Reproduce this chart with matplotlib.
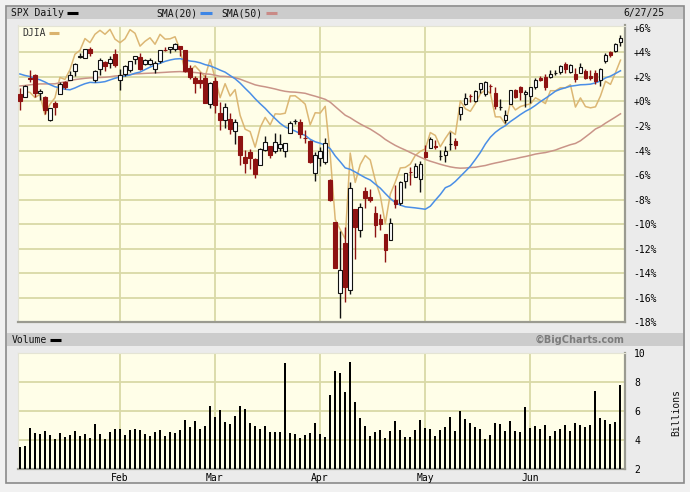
import matplotlib
matplotlib.use("Agg")
import matplotlib.pyplot as plt
import numpy as np
import pandas as pd
from matplotlib.patches import Rectangle

# ---------------- data ----------------
holidays = ["2025-01-09", "2025-01-20", "2025-02-17", "2025-04-18", "2025-05-26", "2025-06-19"]
dates = [d for d in pd.bdate_range("2025-01-02", "2025-06-27") if d.strftime("%Y-%m-%d") not in holidays]

spx_open = [5903.26, 5891.07, 5982.81, 5993.26, 5910.66, 5890.00, 5782.00, 5859.00, 5905.00, 5961.00,
            5969.00, 6014.00, 6081.00, 6076.00, 6121.00, 5969.00, 6026.00, 6058.00, 6050.75, 6096.79,
            5969.65, 5998.14, 6020.45, 6072.22, 6083.13, 6046.40, 6049.32, 6025.08, 6060.59, 6115.52,
            6121.60, 6117.76, 6134.50, 6114.82, 6026.69, 5982.73, 5970.87, 5981.88, 5856.74,
            5968.33, 5811.98, 5781.41, 5785.87, 5726.01, 5705.37, 5603.65, 5624.84, 5594.45, 5563.85,
            5635.60, 5654.53, 5632.37, 5646.92, 5630.73, 5718.08, 5775.11, 5771.66, 5695.64, 5679.58, 5527.91,
            5597.53, 5580.76, 5492.74, 5292.14, 4953.79, 5193.57, 4965.28, 5353.15, 5255.56, 5441.96,
            5411.99, 5335.75, 5305.45, 5232.94, 5207.67, 5395.92, 5381.38, 5489.73, 5529.22, 5508.87, 5499.44,
            5625.14, 5645.20, 5655.32, 5605.88, 5614.30, 5663.02, 5679.98, 5807.51, 5854.22, 5896.68,
            5869.57, 5929.08, 5902.88, 5944.66, 5910.60, 5841.26, 5781.89, 5854.07, 5925.59, 5939.92, 5903.67,
            5896.68, 5938.56, 5978.94, 5985.67, 5987.06, 6004.60, 6009.91, 6049.38, 6009.90, 6000.56,
            6004.00, 6012.15, 5987.93, 6004.14, 5969.67, 6061.21, 6104.59, 6112.10, 6150.70]
spx_high = [5935.09, 5949.34, 6021.04, 6000.68, 5927.89, 5893.00, 5838.00, 5871.00, 5960.00, 5964.00,
            6014.96, 6051.51, 6100.81, 6118.73, 6128.18, 6017.00, 6074.54, 6062.83, 6086.64, 6120.91,
            6022.13, 6042.48, 6062.86, 6084.03, 6101.28, 6073.38, 6076.28, 6063.97, 6116.91, 6127.47,
            6129.63, 6147.43, 6134.50, 6114.82, 6043.65, 5992.65, 6009.82, 5993.69, 5959.40,
            5986.09, 5865.08, 5860.59, 5812.08, 5783.01, 5705.37, 5636.30, 5642.19, 5597.78, 5645.27,
            5703.52, 5654.53, 5715.33, 5711.15, 5670.84, 5775.14, 5783.49, 5786.95, 5732.28, 5685.89, 5627.56,
            5650.57, 5695.31, 5499.53, 5292.14, 5246.57, 5267.47, 5481.34, 5353.15, 5381.46, 5459.46,
            5450.41, 5367.24, 5328.31, 5232.94, 5309.60, 5469.69, 5489.40, 5528.11, 5553.66, 5571.95, 5581.84,
            5658.91, 5700.70, 5683.44, 5634.48, 5653.71, 5720.10, 5691.53, 5844.19, 5906.63, 5906.06,
            5924.24, 5958.62, 5968.61, 5953.06, 5939.00, 5878.08, 5829.51, 5924.33, 5929.00, 5943.13, 5922.14,
            5937.40, 5981.35, 5990.48, 5999.70, 6016.87, 6021.31, 6043.01, 6059.40, 6045.43, 6026.16,
            6050.83, 6023.25, 6018.25, 6018.20, 6028.82, 6101.80, 6108.51, 6146.52, 6187.68]
spx_low = [5829.53, 5888.66, 5960.01, 5890.68, 5874.78, 5809.20, 5773.31, 5805.00, 5905.00, 5930.00,
           5969.00, 5990.00, 6076.00, 6074.00, 6088.00, 5962.92, 5994.00, 6012.96, 6027.46, 6030.93,
           5923.93, 5990.87, 6007.06, 6046.83, 6019.96, 6044.84, 6042.34, 6003.00, 6051.00, 6107.62,
           6099.51, 6111.15, 6084.59, 6008.56, 5977.83, 5908.49, 5932.69, 5858.78, 5837.66,
           5810.91, 5732.59, 5742.35, 5711.64, 5666.29, 5564.02, 5528.41, 5546.09, 5504.65, 5563.85,
           5631.12, 5597.76, 5622.20, 5632.27, 5603.10, 5718.08, 5760.88, 5694.41, 5670.94, 5572.42, 5488.73,
           5558.52, 5571.48, 5390.83, 5069.90, 4835.04, 4910.42, 4948.43, 5115.27, 5220.77, 5358.02,
           5386.44, 5220.79, 5255.58, 5101.63, 5207.67, 5356.67, 5371.96, 5455.86, 5468.64, 5505.70, 5433.24,
           5597.35, 5644.04, 5640.30, 5587.17, 5578.64, 5635.25, 5639.73, 5779.26, 5853.20, 5868.10,
           5865.21, 5907.36, 5895.69, 5909.26, 5830.94, 5825.82, 5767.41, 5854.07, 5886.81, 5873.80, 5843.66,
           5861.43, 5929.00, 5966.11, 5921.20, 5978.63, 5994.18, 6000.26, 6002.32, 6003.88, 5963.21,
           6004.00, 5974.80, 5971.89, 5952.56, 5943.23, 6051.50, 6080.70, 6107.30, 6132.35]
spx_close = [5868.55, 5942.47, 5975.38, 5909.03, 5918.25, 5827.04, 5836.22, 5842.91, 5949.91, 5937.34,
             5996.66, 6049.24, 6086.37, 6118.71, 6101.24, 6012.28, 6067.70, 6039.31, 6071.17, 6040.53,
             5994.57, 6037.88, 6061.48, 6083.57, 6025.99, 6066.44, 6068.50, 6051.97, 6115.07, 6114.63,
             6129.58, 6144.15, 6117.52, 6013.13, 5983.25, 5955.25, 5956.06, 5861.57, 5954.50,
             5849.72, 5778.15, 5842.63, 5738.52, 5770.20, 5614.56, 5572.07, 5599.30, 5521.52, 5638.94,
             5675.12, 5614.66, 5675.29, 5662.89, 5667.56, 5767.57, 5776.65, 5712.20, 5693.31, 5580.94, 5611.85,
             5633.07, 5670.97, 5396.52, 5074.08, 5062.25, 4982.77, 5456.90, 5268.05, 5363.36, 5405.97,
             5396.63, 5275.70, 5282.70, 5158.20, 5287.76, 5375.86, 5484.77, 5525.21, 5528.75, 5560.83, 5569.06,
             5604.14, 5686.67, 5650.38, 5606.91, 5631.28, 5663.94, 5659.91, 5844.19, 5886.55, 5892.58,
             5916.93, 5958.38, 5963.60, 5940.46, 5844.61, 5842.01, 5802.82, 5921.54, 5888.55, 5912.17, 5911.69,
             5935.94, 5970.37, 5970.81, 5939.30, 6000.36, 6005.88, 6038.81, 6022.24, 6045.26, 5976.97,
             6033.11, 5982.72, 5980.87, 5967.84, 6025.17, 6092.18, 6092.16, 6141.02, 6173.07]
# SPX closes before the chart window (needed for the moving averages)
spx_prior_close = [5851.20, 5797.42, 5809.86, 5808.12, 5823.52, 5832.92, 5813.67, 5705.45,
                   5728.80, 5712.69, 5782.76, 5929.04, 5973.10, 5995.54, 6001.35, 5983.99, 5985.38, 5949.17,
                   5870.62, 5893.62, 5916.98, 5917.11, 5948.71, 5969.34, 5987.37, 6021.63, 5998.74, 6032.38,
                   6047.15, 6049.88, 6086.49, 6075.11, 6090.27, 6052.85, 6034.91, 6084.19, 6051.25, 6051.09,
                   6074.08, 6050.61, 5872.16, 5867.08, 5930.85, 5974.07, 6040.04, 6037.59, 5970.84, 5906.94, 5881.63]
djia_close = [42392.27, 42732.13, 42706.56, 42528.36, 42635.20, 41938.45, 42297.12, 42518.28, 43221.55, 43153.13,
              43487.83, 44025.81, 44156.73, 44565.07, 44424.25, 44713.58, 44850.35, 44713.52, 44882.13, 44544.66,
              44421.91, 44556.04, 44873.28, 44747.63, 44303.40, 44470.41, 44593.65, 44368.56, 44711.43, 44546.08,
              44556.34, 44627.59, 44176.65, 43428.02, 43461.21, 43621.16, 43433.12, 43239.50, 43840.91,
              43191.24, 42520.99, 43006.59, 42579.08, 42801.72, 41911.71, 41433.48, 41350.93, 40813.57, 41488.19,
              41841.63, 41581.31, 41964.63, 41953.32, 41985.35, 42583.32, 42587.50, 42454.79, 42299.70, 41583.90, 42001.76,
              41989.96, 42225.32, 40545.93, 38314.86, 37965.60, 37645.59, 40608.45, 39593.66, 40212.71, 40524.79,
              40368.96, 39669.39, 39142.23, 38170.41, 39186.98, 39606.57, 40093.40, 40113.50, 40227.59, 40527.62, 40669.36,
              40752.96, 41317.43, 41218.83, 40829.00, 41113.97, 41368.45, 41249.38, 42410.10, 42140.43, 42051.06,
              42322.75, 42654.74, 42792.07, 42677.24, 41860.44, 41859.09, 41603.07, 42343.65, 42098.70, 42215.73, 42270.07,
              42305.48, 42519.64, 42427.74, 42319.74, 42762.87, 42761.76, 42866.87, 42865.77, 42967.62, 42197.79,
              42515.09, 42215.80, 42171.66, 42206.82, 42581.78, 43089.02, 42982.43, 43386.84, 43819.27]
volume_bn = [3.56, 3.63, 4.87, 4.48, 4.44, 4.67, 4.34, 4.09, 4.48, 4.21,
             4.34, 4.67, 4.30, 4.41, 4.14, 5.13, 4.41, 4.09, 4.60, 4.80,
             4.76, 4.34, 4.74, 4.80, 4.74, 4.41, 4.28, 4.60, 4.74, 4.28,
             4.60, 4.53, 4.74, 5.38, 4.94, 5.31, 4.80, 4.99, 6.37,
             5.59, 6.09, 5.26, 5.13, 5.68, 6.37, 6.18, 5.17, 4.99, 4.80,
             4.99, 4.60, 4.60, 4.60, 9.31, 4.48, 4.41, 4.14, 4.34, 4.48, 5.17,
             4.41, 4.21, 7.15, 8.76, 8.62, 7.36, 9.43, 6.62, 5.52, 5.01,
             4.30, 4.55, 4.69, 4.16, 4.62, 5.33, 4.69, 4.23, 4.23, 4.69, 5.40,
             4.87, 4.80, 4.30, 4.69, 4.94, 5.61, 4.62, 6.00, 5.47, 5.20,
             4.94, 4.80, 4.09, 4.37, 5.20, 5.15, 4.62, 5.33, 4.62, 4.55, 6.30,
             4.83, 5.01, 4.76, 5.08, 4.30, 4.62, 4.80, 5.08, 4.62, 5.20,
             5.08, 4.94, 5.08, 7.40, 5.54, 5.40, 5.15, 5.26, 7.82]
pct_ticks = [6, 4, 2, 0, -2, -4, -6, -8, -10, -12, -14, -16, -18]
vol_ticks = [10, 8, 6, 4, 2]

# ---------------- derived ----------------
n = len(spx_close)
x = np.arange(n)
base = spx_close[0]
def pct(v):
    return (np.asarray(v, dtype=float) / base - 1.0) * 100.0
o, h, l, c = pct(spx_open), pct(spx_high), pct(spx_low), pct(spx_close)
full = np.array(spx_prior_close + spx_close, dtype=float)
k0 = len(spx_prior_close)
sma20 = np.array([full[k0 + i - 19:k0 + i + 1].mean() for i in range(n)])
sma50 = np.array([full[k0 + i - 49:k0 + i + 1].mean() for i in range(n)])
dj = (np.array(djia_close) / djia_close[0] - 1.0) * 100.0
month_idx = [i for i in range(1, n) if dates[i].month != dates[i - 1].month]
month_lab = [dates[i].strftime("%b") for i in month_idx]

# ---------------- styling ----------------
W, H = 690, 492
BG_PLOT = "#fffee8"
GRID = "#d9d9a6"
RED = "#8e1212"
MONO = "DejaVu Sans Mono"

fig = plt.figure(figsize=(W / 100, H / 100), dpi=100)
fig.patch.set_facecolor("#f1f1f1")

def rect(x0, y0, x1, y1):
    return [x0 / W, 1 - y1 / H, (x1 - x0) / W, (y1 - y0) / H]

bg = fig.add_axes([0, 0, 1, 1], zorder=0)
bg.set_xlim(0, W)
bg.set_ylim(H, 0)
bg.axis("off")
bg.add_patch(Rectangle((5.5, 5.5), 678, 477, facecolor="#ebebeb", edgecolor="#8a8a8a", lw=1.2))
bg.add_patch(Rectangle((6.5, 6.5), 676.5, 12.5, facecolor="#cccccc", edgecolor="none"))
bg.add_patch(Rectangle((6.5, 333), 676.5, 12.5, facecolor="#cccccc", edgecolor="none"))

tfs = 7
bg.text(11, 13, "SPX Daily", family=MONO, fontsize=tfs, va="center", ha="left", color="#111111")
bg.plot([67, 78], [13, 13], color="black", lw=2.2, solid_capstyle="butt")
bg.text(156, 13, "SMA(20)", family=MONO, fontsize=tfs, va="center", ha="left", color="#111111")
bg.plot([200, 212], [13, 13], color="#3d86e6", lw=2.2, solid_capstyle="butt")
bg.text(221, 13, "SMA(50)", family=MONO, fontsize=tfs, va="center", ha="left", color="#111111")
bg.plot([266, 277], [13, 13], color="#c98a86", lw=2.2, solid_capstyle="butt")
bg.text(664, 13, "6/27/25", family=MONO, fontsize=tfs, va="center", ha="right", color="#111111")
bg.text(12, 340, "Volume", family=MONO, fontsize=tfs, va="center", ha="left", color="#111111")
bg.plot([50, 61], [340, 340], color="black", lw=2.2, solid_capstyle="butt")
bg.text(624, 340, "\u00a9BigCharts.com", family="DejaVu Sans", fontsize=7, fontweight="bold",
        va="center", ha="right", color="#7c7c7c")
bg.text(676, 412, "Billions", family=MONO, fontsize=tfs, va="center", ha="center",
        rotation=90, color="#111111")

# ---------------- price panel ----------------
ax = fig.add_axes(rect(17.5, 25.5, 625, 322.3), zorder=2)
ax.set_facecolor(BG_PLOT)
ax.set_xlim(-0.48, n - 0.1)
ax.set_ylim(-18, 6.19)
for yv in pct_ticks[1:-1]:
    ax.axhline(yv, color=GRID, lw=1.3, zorder=1)
for mi in month_idx:
    ax.axvline(mi, color=GRID, lw=1.3, zorder=1)

ax.plot(x, dj, color="#dab36e", lw=1.1, alpha=0.95, zorder=2)
ax.plot(x, pct(sma50), color="#c99488", lw=1.1, zorder=3)
ax.plot(x, pct(sma20), color="#4a8ee6", lw=1.1, zorder=3)

bw = 0.7
for i in range(n):
    up = c[i] >= o[i]
    col = "#111111" if up else RED
    ax.vlines(x[i], l[i], h[i], color=col, lw=1.0, zorder=4)
    lo, hi = min(o[i], c[i]), max(o[i], c[i])
    ax.add_patch(Rectangle((x[i] - bw / 2, lo), bw, max(hi - lo, 0.02),
                           facecolor="white" if up else RED, edgecolor=col, lw=0.8, zorder=5))

ytxt = 1 - (33 - 25.5) / (322.3 - 25.5)
ax.text(0.0075, ytxt, "DJIA", transform=ax.transAxes, family=MONO, fontsize=tfs,
        va="center", ha="left", color="#333333", zorder=6)
ax.plot([(49 - 17.5) / 607.5, (59 - 17.5) / 607.5], [ytxt, ytxt], transform=ax.transAxes,
        color="#dab36e", lw=2.2, solid_capstyle="butt", zorder=6)

ax.yaxis.tick_right()
ax.set_yticks(pct_ticks)
ax.set_yticklabels([("+%d%%" % t) if t >= 0 else ("-%d%%" % -t) for t in pct_ticks],
                   family=MONO, fontsize=tfs)
ax.tick_params(axis="y", length=0, pad=6)
ax.set_xticks([])
for s in ("top", "left"):
    ax.spines[s].set_color("#e4e4d4")
    ax.spines[s].set_linewidth(0.8)
for s in ("bottom", "right"):
    ax.spines[s].set_color("#9a9a90")
    ax.spines[s].set_linewidth(1.6)

# ---------------- volume panel ----------------
av = fig.add_axes(rect(17.5, 353.3, 624.5, 469.3), zorder=2)
av.set_facecolor(BG_PLOT)
av.set_xlim(-0.48, n - 0.1)
av.set_ylim(2, 10)
for yv in vol_ticks[1:-1]:
    av.axhline(yv, color=GRID, lw=1.3, zorder=1)
for mi in month_idx:
    av.axvline(mi, color=GRID, lw=1.3, zorder=1)
av.bar(x, volume_bn, width=0.42, color="black", zorder=3)
av.yaxis.tick_right()
av.set_yticks(vol_ticks)
av.set_yticklabels([str(t) for t in vol_ticks], family=MONO, fontsize=tfs)
av.tick_params(axis="y", length=0, pad=7)
av.set_xticks(month_idx)
av.set_xticklabels(month_lab, family=MONO, fontsize=tfs)
av.tick_params(axis="x", length=0, pad=2.5)
for s in ("top", "left"):
    av.spines[s].set_color("#e4e4d4")
    av.spines[s].set_linewidth(0.8)
for s in ("bottom", "right"):
    av.spines[s].set_color("#9a9a90")
    av.spines[s].set_linewidth(1.6)

fig.savefig("out.png", dpi=100, facecolor=fig.get_facecolor())
